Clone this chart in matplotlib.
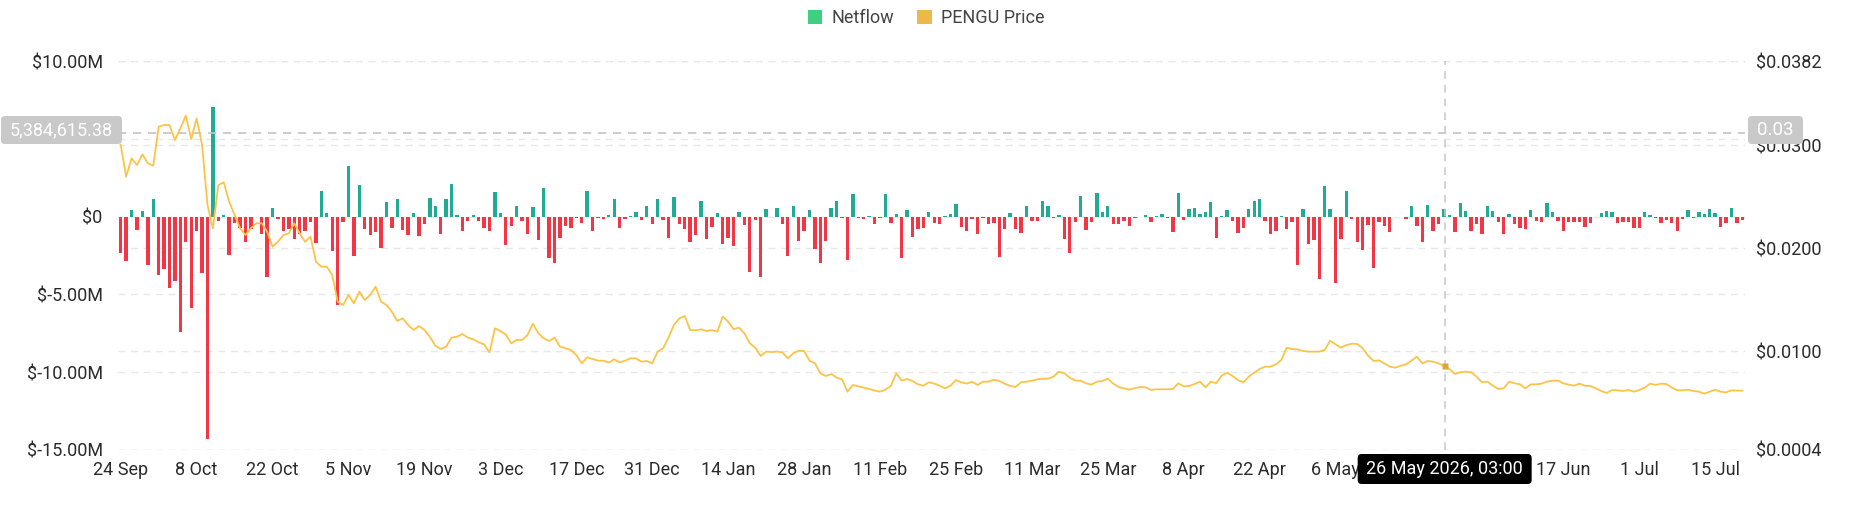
import numpy as np
import pandas as pd
import matplotlib
matplotlib.use("Agg")
import matplotlib.pyplot as plt
import matplotlib.dates as mdates
from matplotlib.patches import Patch, FancyBboxPatch
from matplotlib.transforms import blended_transform_factory

plt.rcParams['font.family'] = ['Roboto', 'DejaVu Sans']

# ---------------- data ----------------
start_date = "2025-09-24"

# daily netflow, millions of USD
netflow_m = [
    -2.34, -2.88, 0.45, -0.84, 0.39, -3.14, 1.14, -3.74, -3.35, -4.56,
    -4.17, -7.42, -1.61, -5.87, -0.92, -3.63, -14.28, 7.03, -0.26, 0.13,
    -2.45, -0.41, -0.73, -1.61, -0.80, -0.04, -1.14, -3.87, 0.56, -0.15,
    -0.95, -0.80, -1.44, -1.12, -0.90, -0.37, -1.72, 1.66, 0.24, -2.22,
    -5.66, -0.32, 3.27, -2.56, 2.00, -0.80, -1.20, -0.99, -2.04, 0.92,
    -0.73, 1.10, -0.88, -1.18, 0.22, -1.25, -0.47, 1.20, 0.67, -1.14,
    1.12, 2.11, 0.13, -0.90, -0.30, 0.09, -0.30, -0.73, -0.92, 1.57,
    0.26, -1.83, -0.62, 0.65, -0.28, -1.12, 0.62, -1.53, 1.87, -2.65,
    -2.95, -1.38, -0.58, -0.75, -0.09, -0.41, 1.63, -0.90, -0.11, -0.13,
    0.13, 1.14, -0.75, -0.13, 0.04, 0.28, -0.22, 0.67, -0.47, 1.10,
    -0.19, -1.40, 1.27, -0.49, -0.80, -1.66, -1.18, 1.03, -1.46, -0.67,
    0.26, -1.76, -1.35, -1.87, 0.32, -0.56, -3.59, -0.19, -3.85, 0.52,
    -0.04, 0.58, -0.49, -2.56, 0.67, -1.55, -0.92, 0.43, -2.11, -2.95,
    -1.59, 0.56, 0.99, -0.11, -2.77, 1.48, -0.11, -0.13, 0.06, -0.45,
    -0.11, 1.46, -0.39, 0.19, -2.69, 0.41, -1.31, -0.77, -0.71, 0.32,
    -0.43,
    -0.49, 0.04, 0.19, 0.82, -0.69, -0.95, -0.17, -1.14, -0.06, -0.45,
    -0.43, -2.58, -0.77, 0.22, -0.80, -1.08, 0.71, -0.26, -0.28, 1.01,
    0.71, -0.11, 0.13, -1.44, -2.34, -0.32, 1.33, -0.88, -0.37, 1.53,
    0.32, 0.71, -0.49, -0.49, -0.26, -0.62, -0.09, -0.04, 0.13, -0.34,
    0.04, 0.15, -0.11, -0.97, 1.51, -0.19, 0.52, 0.56, 0.19, 0.30,
    0.95, -1.40, 0.04, 0.43, -0.28, -1.03, -0.73, 0.47, 0.99, 1.14,
    -0.26, -1.14, -0.95, 0.02, -0.82, -0.37, -3.12, 0.49, -1.78, -1.53,
    -4.04, 1.94, 0.49, -4.28, -1.46, 1.66, -0.15, -1.61, -2.15, -0.52,
    -3.33, -0.32, -0.60, -0.99, -0.02, -0.02, -0.17, 0.71, -0.58, -1.61,
    0.73, -0.90, -0.47, 0.47, 0.11, -0.97, 0.86, 0.39, -0.95, -0.49,
    -1.12,
    0.65, 0.39, -0.32, -1.12, 0.19, -0.47, -0.75, -0.80, 0.43, -0.26,
    -0.32, 0.86, 0.32, -0.26, -0.95, -0.34, -0.34, -0.37, -0.69, -0.43,
    -0.04, 0.24, 0.34, 0.28, -0.41, -0.37, -0.37, -0.73, -0.73, 0.30,
    0.13, -0.06, -0.43, -0.24, -0.43, -0.90, -0.15, 0.43, -0.11, 0.30,
    0.15, 0.47, 0.26, -0.69, -0.39, 0.54, -0.39, -0.19,
]

# daily PENGU price, USD
pengu_price = [
    0.03004, 0.02696, 0.02874, 0.02809, 0.02913, 0.02826, 0.02803, 0.03182, 0.03198, 0.03198,
    0.03052, 0.03166, 0.03289, 0.03062, 0.03263, 0.03004, 0.02421, 0.02194, 0.02615, 0.02641,
    0.02453, 0.02324, 0.02194, 0.02129, 0.02194, 0.02243, 0.02243, 0.02162, 0.02016, 0.02064,
    0.02129, 0.02145, 0.02243, 0.02145, 0.02064, 0.02113, 0.01870, 0.01821, 0.01821, 0.01740,
    0.01481, 0.01449, 0.01546, 0.01465, 0.01579, 0.01498, 0.01546, 0.01627, 0.01481, 0.01449,
    0.01384, 0.01294, 0.01319, 0.01255, 0.01206, 0.01245, 0.01206, 0.01141, 0.01054, 0.01021,
    0.01044, 0.01132, 0.01141, 0.01167, 0.01132, 0.01115, 0.01086, 0.01067, 0.00989, 0.01222,
    0.01196, 0.01164, 0.01076, 0.01109, 0.01109, 0.01157, 0.01268, 0.01174, 0.01125, 0.01099,
    0.01132, 0.01044, 0.01028, 0.01012, 0.00963, 0.00882, 0.00940, 0.00924, 0.00908, 0.00908,
    0.00889, 0.00921, 0.00892, 0.00908, 0.00931, 0.00931, 0.00898, 0.00905, 0.00882, 0.00996,
    0.01028, 0.01132, 0.01255, 0.01319, 0.01342, 0.01206, 0.01203, 0.01213, 0.01196, 0.01206,
    0.01190, 0.01336, 0.01287, 0.01213, 0.01229, 0.01174, 0.01076, 0.01034, 0.00953, 0.00996,
    0.00992, 0.00996, 0.00989, 0.00931, 0.00979, 0.01005, 0.01002, 0.00908, 0.00882, 0.00785,
    0.00759, 0.00778, 0.00743, 0.00727, 0.00607, 0.00672, 0.00659, 0.00646, 0.00633, 0.00617,
    0.00607, 0.00626, 0.00662, 0.00785, 0.00714, 0.00730, 0.00710, 0.00678, 0.00665, 0.00698,
    0.00685,
    0.00665, 0.00639, 0.00665, 0.00720, 0.00698, 0.00685, 0.00704, 0.00672, 0.00704, 0.00704,
    0.00723, 0.00710, 0.00685, 0.00662, 0.00652, 0.00698, 0.00704, 0.00714, 0.00727, 0.00733,
    0.00733, 0.00753, 0.00801, 0.00785, 0.00743, 0.00714, 0.00714, 0.00688, 0.00675, 0.00704,
    0.00710, 0.00733, 0.00685, 0.00652, 0.00639, 0.00626, 0.00642, 0.00652, 0.00649, 0.00623,
    0.00630, 0.00630, 0.00630, 0.00633, 0.00688, 0.00659, 0.00662, 0.00681, 0.00704, 0.00649,
    0.00704, 0.00688, 0.00762, 0.00791, 0.00759, 0.00720, 0.00698, 0.00753, 0.00791, 0.00827,
    0.00850, 0.00850, 0.00872, 0.00915, 0.01034, 0.01021, 0.01018, 0.01002, 0.00996, 0.00996,
    0.00996, 0.01012, 0.01102, 0.01067, 0.01034, 0.01060, 0.01073, 0.01070, 0.01028, 0.00957,
    0.00905, 0.00911, 0.00882, 0.00850, 0.00840, 0.00859, 0.00872, 0.00908, 0.00947, 0.00882,
    0.00905, 0.00898, 0.00882, 0.00856, 0.00827, 0.00778, 0.00795, 0.00801, 0.00795, 0.00753,
    0.00698,
    0.00704, 0.00665, 0.00633, 0.00639, 0.00704, 0.00688, 0.00678, 0.00639, 0.00678, 0.00678,
    0.00685, 0.00704, 0.00714, 0.00714, 0.00688, 0.00675, 0.00665, 0.00685, 0.00665, 0.00662,
    0.00639, 0.00613, 0.00594, 0.00623, 0.00620, 0.00613, 0.00623, 0.00607, 0.00623, 0.00646,
    0.00685, 0.00672, 0.00685, 0.00681, 0.00646, 0.00620, 0.00620, 0.00626, 0.00613, 0.00607,
    0.00587, 0.00607, 0.00626, 0.00607, 0.00600, 0.00620, 0.00617, 0.00617,
]

left_ticks_m = [10, 5, 0, -5, -10, -15]
left_tick_labels = ["$10.00M", "", "$0", "$-5.00M", "$-10.00M", "$-15.00M"]
right_ticks = [0.0382, 0.0300, 0.0200, 0.0100, 0.0004]
right_tick_labels = ["$0.0382", "$0.0300", "$0.0200", "$0.0100", "$0.0004"]
x_tick_dates = ["2025-09-24", "2025-10-08", "2025-10-22", "2025-11-05", "2025-11-19",
                "2025-12-03", "2025-12-17", "2025-12-31", "2026-01-14", "2026-01-28",
                "2026-02-11", "2026-02-25", "2026-03-11", "2026-03-25", "2026-04-08",
                "2026-04-22", "2026-05-06", "2026-05-20", "2026-06-03", "2026-06-17",
                "2026-07-01", "2026-07-15"]
x_tick_labels = ["24 Sep", "8 Oct", "22 Oct", "5 Nov", "19 Nov", "3 Dec", "17 Dec",
                 "31 Dec", "14 Jan", "28 Jan", "11 Feb", "25 Feb", "11 Mar", "25 Mar",
                 "8 Apr", "22 Apr", "6 May", "", "", "17 Jun", "1 Jul", "15 Jul"]
crosshair_time = "2026-05-26 03:00"
crosshair_label = "26 May 2026, 03:00"
crosshair_value_label = "5,384,615.38"
crosshair_value_m = 5.38461538
crosshair_price_label = "0.03"

# ---------------- styling ----------------
GREEN = "#22ab94"
RED = "#f23645"
LINE = "#fcc447"
GRID = "#e8e8e8"
TXT = "#2b2b2b"
FS = 13

assert len(netflow_m) == len(pengu_price)
n = len(netflow_m)
dates = pd.date_range(start_date, periods=n, freq="D")
xnum = mdates.date2num(dates)
net = np.array(netflow_m)
price = np.array(pengu_price)

W, H = 1852, 525
fig = plt.figure(figsize=(W / 100, H / 100), dpi=100)
L, R, T, B = 118, 1745, 61, 450
ax = fig.add_axes([L / W, 1 - B / H, (R - L) / W, (B - T) / H])
ax2 = ax.twinx()

colors = np.where(net >= 0, GREEN, RED)
ax.bar(xnum, net, width=0.62, color=colors, linewidth=0, zorder=3)
ax.set_ylim(-15, 10)
ax.set_xlim(xnum[0] - 0.5, xnum[-1] + 0.5)
ax.set_yticks(left_ticks_m)
ax.set_yticklabels(left_tick_labels)

ax2.plot(xnum, price, color=LINE, lw=1.3, zorder=4, solid_joinstyle="round")
ax2.set_ylim(0.0004, 0.0382)
ax2.set_yticks(right_ticks)
ax2.set_yticklabels(right_tick_labels)

# grid lines (under the bars)
dash = (0, (5, 4))
for v in left_ticks_m:
    ax.axhline(v, color=GRID, lw=1, ls=dash, zorder=1)
btr = blended_transform_factory(ax.transAxes, ax2.transData)
for v in right_ticks:
    ax.plot([0, 1], [v, v], transform=btr, color=GRID, lw=1, ls=dash, zorder=1)

ax.set_xticks(mdates.date2num(pd.to_datetime(x_tick_dates)))
ax.set_xticklabels(x_tick_labels)

for a in (ax, ax2):
    for s in a.spines.values():
        s.set_visible(False)
ax.tick_params(axis="y", length=0, pad=11, labelsize=FS, labelcolor=TXT)
ax.tick_params(axis="x", length=0, pad=8, labelsize=FS, labelcolor=TXT)
ax2.tick_params(axis="y", length=0, pad=8, labelsize=FS, labelcolor=TXT)

# crosshair
cx = mdates.date2num(pd.Timestamp(crosshair_time))
ax.axvline(cx, color="#c8c8c8", lw=1.1, ls=dash, zorder=5)
ax.axhline(crosshair_value_m, color="#c4c4c4", lw=1.2, ls=dash, zorder=5)
ax2.plot([cx], [np.interp(cx, xnum, price)], marker="s", ms=4, color="#d9a63a",
         mec="none", zorder=6)

# crosshair boxes
def box(x, y, w, h, fc, text, tc, fs=FS):
    p = FancyBboxPatch((x / 100, (H - y - h) / 100), w / 100, h / 100,
                       boxstyle="round,pad=0,rounding_size=0.04",
                       transform=fig.dpi_scale_trans, fc=fc, ec="none", zorder=10)
    fig.add_artist(p)
    fig.text((x + w / 2) / W, 1 - (y + h / 2) / H, text, ha="center", va="center",
             color=tc, fontsize=fs, zorder=11)

box(1, 116, 121, 28, "#c9c9c9", crosshair_value_label, "white", 13)
box(1748, 116, 55, 28, "#c9c9c9", crosshair_price_label, "white", 13.5)
cx_px = ax.transData.transform((cx, 0))[0]
box(cx_px - 87, 454, 174, 30, "black", crosshair_label, "white", 13)

# legend
handles = [Patch(facecolor="#3ecf80", edgecolor="none"),
           Patch(facecolor="#ecb84a", edgecolor="none")]
fig.legend(handles, ["Netflow", "PENGU Price"], loc="center",
           bbox_to_anchor=(0.5, 1 - 18 / H), ncol=2, frameon=False,
           handlelength=0.8, handleheight=0.8, handletextpad=0.5,
           columnspacing=1.3, fontsize=FS, labelcolor="#444444")

fig.savefig("out.png", dpi=100, facecolor="white")
